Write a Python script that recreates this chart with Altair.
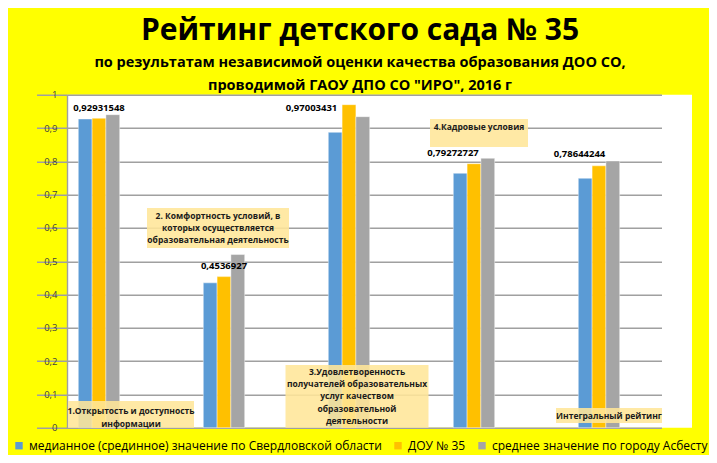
import altair as alt
import pandas as pd

categories = ["Открытость", "Комфортность", "Удовлетворенность", "Кадровые условия", "Интегральный рейтинг"]
series = ["медианное (срединное) значение по Свердловской области", "ДОУ № 35", "среднее значение по городу Асбесту"]
median_vals = [0.927, 0.435, 0.887, 0.764, 0.749]
dou_vals = [0.92931548, 0.4536927, 0.97003431, 0.79272727, 0.78644244]
asbest_vals = [0.940, 0.520, 0.934, 0.809, 0.801]
colors = ["#5B9BD5", "#FFC000", "#A5A5A5"]
y_ticks = [0, 0.1, 0.2, 0.3, 0.4, 0.5, 0.6, 0.7, 0.8, 0.9, 1]

box_lines = [
    ["1.Открытость и доступность", "информации"],
    ["2. Комфортность условий,  в", "которых осуществляется", "образовательная деятельность"],
    ["3.Удовлетворенность", "получателей  образовательных", "услуг качеством", "образовательной", "деятельности"],
    ["4.Кадровые условия"],
    ["Интегральный рейтинг"],
]
# annotation box styling: value range (y), pixel width, pixel offsets
box_y = [(0.0, 0.080), (0.540, 0.660), (0.0, 0.188), (0.843, 0.927), (0.014, 0.059)]
box_w = [126, 142, 143, 98, 106]
box_dx = [32, -6, 8, 5, 10]
box_text_dy = [3, 0, 0, -6, 0]
label_dx = [0, 0, -37.5, -21, -19.5]
label_dy = [-10, -10.6, 3, -10.7, -12]
LINE_H = 12.4

FONT = "Open Sans"

rows = []
for i, c in enumerate(categories):
    for s, vals in zip(series, [median_vals, dou_vals, asbest_vals]):
        rows.append({"cat": c, "series": s, "value": vals[i]})
df = pd.DataFrame(rows)

xscale = alt.Scale(domain=categories, range=[-30.5, 594.5], paddingInner=0, paddingOuter=0)
yscale = alt.Scale(domain=[0, 1], nice=False)
yaxis = alt.Axis(values=y_ticks, tickCount=11, labelOverlap=False,
                 labelExpr="replace(format(datum.value, '.1~f'), '.', ',')",
                 grid=True, gridColor="#A0A0A0", gridWidth=1.4,
                 domain=True, domainColor="#A0A0A0", domainWidth=1.4,
                 ticks=False, labelFont=FONT, labelFontSize=9.5,
                 labelColor="#404040", labelPadding=10, title=None)

bars = alt.Chart(df).mark_bar(stroke="white", strokeWidth=0.7, strokeOpacity=0.6).encode(
    x=alt.X("cat:N", sort=categories, scale=xscale, axis=None),
    xOffset=alt.XOffset("series:N", sort=series,
                        scale=alt.Scale(domain=series, range=[41.8, 83.2],
                                        paddingInner=0, paddingOuter=0)),
    y=alt.Y("value:Q", scale=yscale, title=None, axis=yaxis),
    color=alt.Color("series:N", sort=series,
                    scale=alt.Scale(domain=series, range=colors),
                    legend=alt.Legend(orient="none", legendX=-54, legendY=345,
                                      direction="horizontal", title=None,
                                      symbolType="square", symbolSize=55,
                                      symbolStrokeWidth=0,
                                      labelFont=FONT, labelFontSize=12,
                                      labelColor="black", labelLimit=600,
                                      columnPadding=10)),
)

layers = [bars]

for i, c in enumerate(categories):
    n = len(box_lines[i])
    bdf = pd.DataFrame([{"cat": c, "y0": box_y[i][0], "y1": box_y[i][1],
                         "ym": (box_y[i][0] + box_y[i][1]) / 2, "t": box_lines[i]}])
    rect = alt.Chart(bdf).mark_rect(width=box_w[i], xOffset=box_dx[i],
                                    color="#FFE699", opacity=0.88).encode(
        x=alt.X("cat:N", sort=categories, scale=xscale, axis=None),
        y=alt.Y("y0:Q", scale=yscale, title=None, axis=yaxis),
        y2="y1:Q",
    )
    txt = alt.Chart(bdf).mark_text(font=FONT, fontSize=8.5, fontWeight="bold",
                                   color="#1a1a1a", lineHeight=LINE_H,
                                   baseline="middle", align="center",
                                   dx=box_dx[i],
                                   dy=box_text_dy[i] - (n - 1) * LINE_H / 2).encode(
        x=alt.X("cat:N", sort=categories, scale=xscale, axis=None),
        y=alt.Y("ym:Q", scale=yscale, title=None, axis=yaxis),
        text="t",
    )
    layers += [rect, txt]

for i, c in enumerate(categories):
    ldf = pd.DataFrame([{"cat": c, "value": dou_vals[i]}])
    lab = alt.Chart(ldf).transform_calculate(
        lbl="replace(toString(datum.value), '.', ',')"
    ).mark_text(font=FONT, fontSize=9.5, fontWeight="bold", color="black",
                baseline="middle", align="center",
                dx=label_dx[i], dy=label_dy[i]).encode(
        x=alt.X("cat:N", sort=categories, scale=xscale, axis=None),
        y=alt.Y("value:Q", scale=yscale, title=None, axis=yaxis),
        text="lbl:N",
    )
    layers.append(lab)

chart = alt.layer(*layers).properties(
    width=625, height=333,
    autosize=alt.AutoSizeParams(type="none"),
    padding={"left": 59, "right": 17, "top": 86.7, "bottom": 27.3},
    title=alt.TitleParams(
        text="Рейтинг детского сада № 35",
        subtitle=["по результатам независимой оценки качества образования ДОО СО,",
                  "проводимой ГАОУ ДПО СО \"ИРО\",  2016 г"],
        anchor="middle", dx=-19.5, offset=-3,
        font=FONT, fontSize=30, fontWeight="bold", color="black",
        subtitleFont=FONT, subtitleFontSize=14.5, subtitleFontWeight="bold",
        subtitleColor="black", subtitleLineHeight=23, subtitlePadding=10,
    ),
).configure(background="#FFFF00").configure_view(fill="white", stroke=None)

chart.save("out.html", embed_options={"renderer": "svg", "actions": False})
